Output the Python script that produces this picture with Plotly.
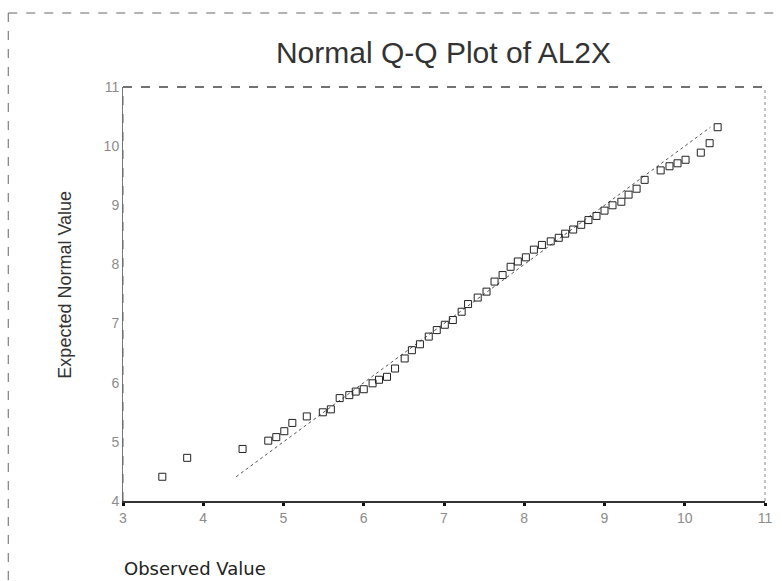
import plotly.graph_objects as go

# Observed AL2X values and their expected normal quantiles
observed = [3.49, 3.80, 4.49, 4.81, 4.91, 5.01, 5.11, 5.29, 5.49, 5.59,
            5.70, 5.82, 5.90, 6.00, 6.11, 6.19, 6.29, 6.39, 6.51, 6.60,
            6.70, 6.81, 6.91, 7.01, 7.11, 7.22, 7.30, 7.42, 7.53, 7.63,
            7.73, 7.83, 7.92, 8.02, 8.12, 8.22, 8.33, 8.43, 8.51, 8.61,
            8.71, 8.80, 8.90, 9.00, 9.10, 9.21, 9.30, 9.40, 9.50, 9.70,
            9.81, 9.91, 10.01, 10.20, 10.31, 10.41]
expected = [4.41, 4.73, 4.88, 5.02, 5.08, 5.18, 5.32, 5.43, 5.50, 5.55,
            5.74, 5.79, 5.85, 5.89, 5.99, 6.05, 6.10, 6.24, 6.41, 6.55,
            6.65, 6.78, 6.89, 6.98, 7.06, 7.20, 7.33, 7.44, 7.54, 7.71,
            7.82, 7.96, 8.05, 8.12, 8.25, 8.33, 8.39, 8.45, 8.52, 8.59,
            8.67, 8.75, 8.82, 8.91, 9.00, 9.06, 9.18, 9.28, 9.43, 9.59,
            9.66, 9.71, 9.77, 9.89, 10.05, 10.32]

x_ticks = [3, 4, 5, 6, 7, 8, 9, 10, 11]
y_ticks = [4, 5, 6, 7, 8, 9, 10, 11]

# reference line y = x over the range of expected values
ref_line = [min(expected), max(expected)]

W, H = 782, 581
L, R, T, B = 123, 10, 87, 80
pw, ph = W - L - R, H - T - B


def px_x(p):
    return (p - L) / pw


def px_y(p):
    return (H - B - p) / ph


fig = go.Figure()
fig.add_trace(go.Scatter(
    x=ref_line, y=ref_line, mode="lines",
    line=dict(color="#555555", width=1, dash="dot"),
    hoverinfo="skip", showlegend=False))
fig.add_trace(go.Scatter(
    x=observed, y=expected, mode="markers",
    marker=dict(symbol="square-open", size=7, color="#222222",
                line=dict(width=1, color="#222222")),
    showlegend=False))

tick_font = dict(family="Liberation Sans", size=14, color="#8c8c8c")
fig.update_xaxes(range=[3, 11], tickvals=x_ticks, showgrid=False,
                 zeroline=False, showline=True, linecolor="#333333",
                 linewidth=2, mirror=False, ticks="outside", ticklen=3,
                 tickwidth=3, tickcolor="#111111", tickfont=tick_font)
fig.update_yaxes(range=[4, 11], tickvals=y_ticks, showgrid=False,
                 zeroline=False, showline=True, linecolor="#777777",
                 linewidth=1, mirror=False, ticks="", tickfont=tick_font)

shapes = [
    # plot frame: top, left, right
    dict(type="line", xref="paper", yref="paper", x0=0, x1=1, y0=1, y1=1,
         line=dict(color="#444444", width=1.5, dash="dash")),
    dict(type="line", xref="paper", yref="paper", x0=0, x1=0, y0=0, y1=1,
         line=dict(color="#666666", width=1, dash="dash")),
    dict(type="line", xref="paper", yref="paper", x0=1, x1=1, y0=0, y1=1,
         line=dict(color="#888888", width=1, dash="dot")),
    # page border
    dict(type="line", xref="paper", yref="paper",
         x0=px_x(7), x1=px_x(W), y0=px_y(13), y1=px_y(13),
         line=dict(color="#666666", width=1, dash="dash")),
    dict(type="line", xref="paper", yref="paper",
         x0=px_x(7), x1=px_x(7), y0=px_y(13), y1=px_y(H),
         line=dict(color="#666666", width=1, dash="dash")),
]

annotations = [
    dict(text="Observed Value", xref="paper", yref="paper",
         x=px_x(122), y=px_y(568), xanchor="left", yanchor="middle",
         showarrow=False,
         font=dict(family="DejaVu Sans", size=18, color="#222222")),
    dict(text="Expected Normal Value", xref="paper", yref="paper",
         x=px_x(64), y=px_y(285), xanchor="center", yanchor="middle",
         textangle=-90, showarrow=False,
         font=dict(family="Liberation Sans", size=18, color="#333333")),
]

fig.update_layout(
    width=W, height=H,
    margin=dict(l=L, r=R, t=T, b=B),
    paper_bgcolor="white", plot_bgcolor="white",
    title=dict(text="Normal Q-Q Plot of AL2X", x=px_x(447), xanchor="center",
               xref="paper", y=1 - 52 / H, yanchor="middle",
               font=dict(family="Liberation Sans", size=30, color="#333333")),
    shapes=shapes, annotations=annotations,
)

fig.write_html("out.html")
